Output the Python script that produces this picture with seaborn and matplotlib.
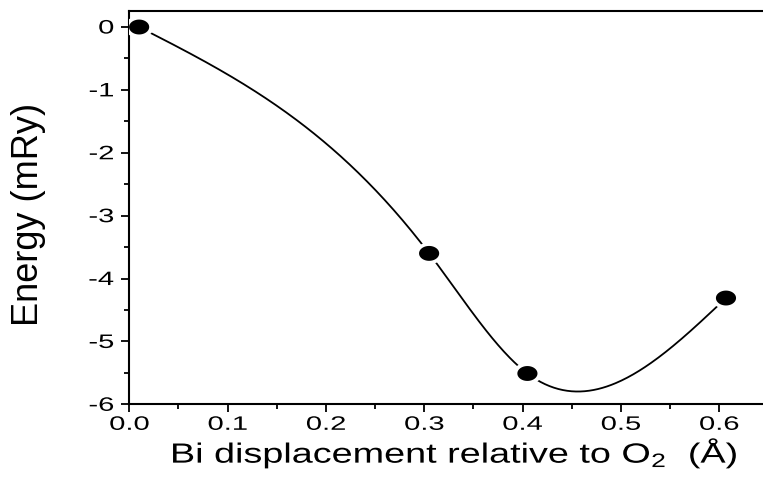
import numpy as np
import pandas as pd
import matplotlib
matplotlib.use("Agg")
import matplotlib.pyplot as plt
from matplotlib.path import Path
from matplotlib.patheffects import AbstractPathEffect
from matplotlib.transforms import Affine2D
from matplotlib.ticker import MultipleLocator, FormatStrFormatter
import seaborn as sns

# Data
displacement = [0.01, 0.305, 0.405, 0.607]   # Bi displacement (Å)
energy = [0.0, -3.6, -5.51, -4.31]            # Energy (mRy)
x_ticks = [0.0, 0.1, 0.2, 0.3, 0.4, 0.5, 0.6]
y_ticks = [0, -1, -2, -3, -4, -5, -6]


def natural_cubic_spline(x, y, xs):
    x = np.asarray(x, float)
    y = np.asarray(y, float)
    n = len(x)
    h = np.diff(x)
    A = np.zeros((n, n))
    b = np.zeros(n)
    A[0, 0] = 1
    A[-1, -1] = 1
    for i in range(1, n - 1):
        A[i, i - 1] = h[i - 1]
        A[i, i] = 2 * (h[i - 1] + h[i])
        A[i, i + 1] = h[i]
        b[i] = 6 * ((y[i + 1] - y[i]) / h[i] - (y[i] - y[i - 1]) / h[i - 1])
    M = np.linalg.solve(A, b)
    out = np.empty_like(xs)
    for k, xv in enumerate(xs):
        i = min(max(np.searchsorted(x, xv) - 1, 0), n - 2)
        t1 = x[i + 1] - xv
        t0 = xv - x[i]
        hi = h[i]
        out[k] = (M[i] * t1 ** 3 / (6 * hi) + M[i + 1] * t0 ** 3 / (6 * hi)
                  + (y[i] / hi - M[i] * hi / 6) * t1
                  + (y[i + 1] / hi - M[i + 1] * hi / 6) * t0)
    return out


class HStretch(AbstractPathEffect):
    """Widen rendered text horizontally (the reference uses wide lettering)."""

    def __init__(self, sx, anchor="center"):
        super().__init__()
        self.sx = sx
        self.anchor = anchor

    def draw_path(self, renderer, gc, tpath, affine, rgbFace=None):
        verts = affine.transform(tpath.vertices)
        if len(verts) == 0:
            return
        if self.anchor == "right":
            cx = verts[:, 0].max()
        else:
            cx = 0.5 * (verts[:, 0].min() + verts[:, 0].max())
        t = affine + Affine2D().translate(-cx, 0).scale(self.sx, 1.0).translate(cx, 0)
        renderer.draw_path(gc, tpath, t, rgbFace)


sns.set_theme(style="ticks")
plt.rcParams["font.family"] = ["Liberation Sans", "DejaVu Sans"]
plt.rcParams["mathtext.fontset"] = "custom"
plt.rcParams["mathtext.rm"] = "Liberation Sans"
plt.rcParams["mathtext.it"] = "Liberation Sans"
plt.rcParams["xtick.labelsize"] = 14
plt.rcParams["ytick.labelsize"] = 14

df = pd.DataFrame({"x": displacement, "y": energy})
xs = np.linspace(displacement[0], displacement[-1], 400)
curve = pd.DataFrame({"x": xs, "y": natural_cubic_spline(displacement, energy, xs)})

fig = plt.figure(figsize=(7.63, 4.89), dpi=100)
ax = fig.add_axes([129.3 / 763, 1 - 405.3 / 489, 1 - 129.3 / 763, (405.3 - 12.3) / 489])

sns.lineplot(data=curve, x="x", y="y", ax=ax, color="black", lw=1.3,
             sort=False, estimator=None, zorder=2)

# elliptical marker
theta = np.linspace(0, 2 * np.pi, 60)
ell = Path(np.column_stack([np.cos(theta), 0.74 * np.sin(theta)]), closed=True)

sns.scatterplot(data=df, x="x", y="y", ax=ax, marker=ell, s=21 ** 2,
                color="white", edgecolor="none", linewidth=0, zorder=3)
sns.scatterplot(data=df, x="x", y="y", ax=ax, marker=ell, s=14.5 ** 2,
                color="black", edgecolor="none", linewidth=0, zorder=4)

ax.set_xlim(0, (763 - 129.3) / 983.0)
ax.set_ylim(-6, 0.25)
ax.set_xticks(x_ticks)
ax.set_yticks(y_ticks)
ax.xaxis.set_major_formatter(FormatStrFormatter("%.1f"))
ax.yaxis.set_major_formatter(FormatStrFormatter("%d"))
ax.xaxis.set_minor_locator(MultipleLocator(0.05))
ax.yaxis.set_minor_locator(MultipleLocator(0.5))

for side in ["left", "bottom", "top"]:
    ax.spines[side].set_linewidth(1.5)
    ax.spines[side].set_visible(True)
    ax.spines[side].set_color("black")
ax.spines["right"].set_visible(False)

ax.tick_params(which="major", direction="out", length=6, width=1.3,
               color="black", labelcolor="black")
ax.tick_params(which="minor", direction="out", length=3.5, width=1.3, color="black")
ax.tick_params(axis="x", which="both", top=False, pad=3)
ax.tick_params(axis="y", which="both", right=False, pad=5)
ax.tick_params(axis="both", which="major", labelsize=14)

ax.set_xlabel("Bi displacement relative to O$_2$  (Å)", fontsize=20, color="black")
ax.set_ylabel("Energy (mRy)", fontsize=26, color="black")
ax.xaxis.set_label_coords(0.512, -0.08)
ax.yaxis.set_label_coords(-0.132, 0.485)
ax.grid(False)

fig.canvas.draw()
for lab in ax.get_xticklabels():
    lab.set_path_effects([HStretch(1.5, "center")])
for lab in ax.get_yticklabels():
    lab.set_path_effects([HStretch(1.5, "right")])
ax.xaxis.label.set_path_effects([HStretch(1.36, "center")])

fig.savefig("out.png", dpi=100)
